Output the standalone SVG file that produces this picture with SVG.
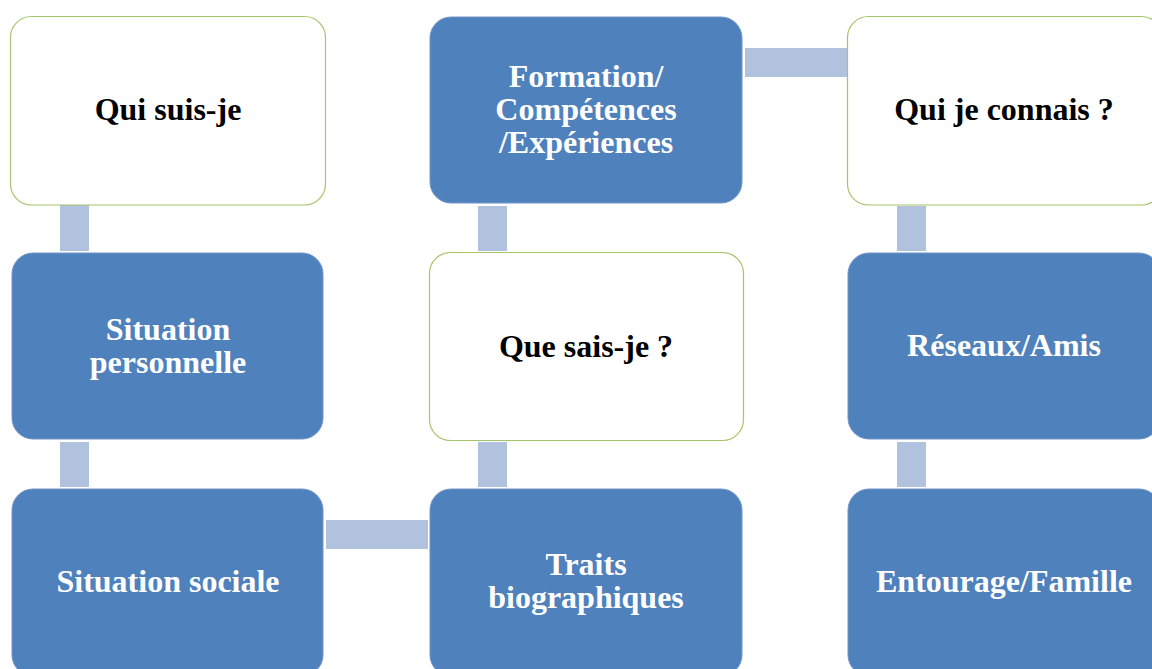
<svg xmlns="http://www.w3.org/2000/svg" width="1152" height="669" viewBox="0 0 1152 669">
<style>
.blue{fill:#4F81BD;stroke:#6F96C8;stroke-width:1}
.white{fill:#FFFFFF;stroke:#A6C46A;stroke-width:1.2}
.conn{fill:#B0C2DD}
text{font-family:"Liberation Serif","Times New Roman",serif;font-weight:bold;font-size:32px;text-anchor:middle}
.tw{fill:#FFFFFF}
.tb{fill:#000000}
</style>
<rect width="1152" height="669" fill="#FFFFFF"/>
<g id="connectors">
<rect class="conn" x="60" y="205" width="29" height="46"/>
<rect class="conn" x="60" y="442" width="29" height="45"/>
<rect class="conn" x="326" y="520" width="102" height="29"/>
<rect class="conn" x="478" y="442" width="29" height="45"/>
<rect class="conn" x="478" y="206" width="29" height="45"/>
<rect class="conn" x="745" y="48" width="102" height="29"/>
<rect class="conn" x="897" y="206" width="29" height="45"/>
<rect class="conn" x="897" y="442" width="29" height="45"/>
</g>
<g id="qui-suis-je">
<rect class="white" x="10.5" y="16.5" width="315" height="188.5" rx="21"/>
<text class="tb" x="168" y="120">Qui suis-je</text>
</g>
<g id="situation-personnelle">
<rect class="blue" x="12" y="253" width="311" height="186" rx="21"/>
<text class="tw" x="168" y="340">Situation</text>
<text class="tw" x="168" y="373">personnelle</text>
</g>
<g id="situation-sociale">
<rect class="blue" x="12" y="489" width="311" height="187" rx="21"/>
<text class="tw" x="168" y="592">Situation sociale</text>
</g>
<g id="formation">
<rect class="blue" x="430" y="17" width="312" height="186" rx="21"/>
<text class="tw" x="586" y="87">Formation/</text>
<text class="tw" x="586" y="120">Compétences</text>
<text class="tw" x="586" y="153">/Expériences</text>
</g>
<g id="que-sais-je">
<rect class="white" x="429.5" y="252.5" width="314" height="188" rx="21"/>
<text class="tb" x="586" y="357">Que sais-je ?</text>
</g>
<g id="traits-biographiques">
<rect class="blue" x="430" y="489" width="312" height="187" rx="21"/>
<text class="tw" x="586" y="575">Traits</text>
<text class="tw" x="586" y="608">biographiques</text>
</g>
<g id="qui-je-connais">
<rect class="white" x="847.5" y="16.5" width="315" height="188.5" rx="21"/>
<text class="tb" x="1004" y="120">Qui je connais ?</text>
</g>
<g id="reseaux-amis">
<rect class="blue" x="848" y="253" width="312" height="186" rx="21"/>
<text class="tw" x="1004" y="356">Réseaux/Amis</text>
</g>
<g id="entourage-famille">
<rect class="blue" x="848" y="489" width="312" height="187" rx="21"/>
<text class="tw" x="1004" y="592">Entourage/Famille</text>
</g>
</svg>
